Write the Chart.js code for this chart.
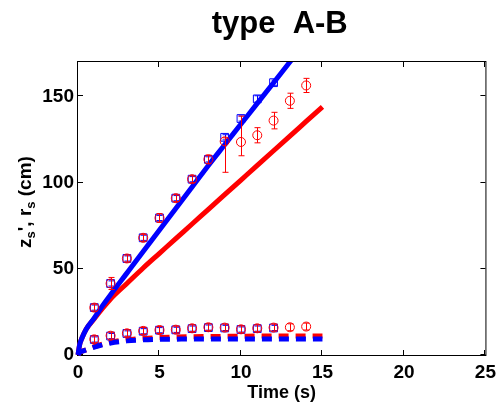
<!DOCTYPE html>
<html><head><meta charset="utf-8">
<script src="https://cdn.jsdelivr.net/npm/chart.js@4/dist/chart.umd.min.js"></script>
<style>html,body{margin:0;padding:0;background:#fff}canvas{display:block}</style>
</head><body>
<canvas id="c" width="502" height="414"></canvas>
<script>
// ---- text ----
const titleText = 'type  A-B';
const xAxisTitle = 'Time (s)';
const xTickValues = [0, 5, 10, 15, 20, 25];
const yTickValues = [0, 50, 100, 150];

// ---- model curves ----
const tFit     = [0, 0.1, 0.25, 0.5, 1, 1.5, 2, 3, 4, 5, 6, 7, 8, 9, 10, 11, 12, 13, 14, 15];
const zBlueFit = [0, 6, 10, 15, 21.5, 28.5, 35, 47.5, 60, 72.5, 85, 97.5, 110, 122, 134, 146, 158, 170, 182, 194];
const zRedFit  = [0, 6, 10, 15, 21, 27, 32.5, 41.5, 50.5, 59, 67.5, 76, 84.5, 93, 101.5, 110, 118.5, 127, 135.5, 144];
const rBlueFit = [0, 1.5, 2.2, 3, 4.6, 5.9, 7, 8.2, 8.8, 9.1, 9.2, 9.3, 9.3, 9.3, 9.3, 9.3, 9.3, 9.3, 9.3, 9.3];
const rRedFit  = [0, 1.5, 2.2, 3, 4.8, 6.3, 7.5, 8.8, 9.6, 10.1, 10.4, 10.6, 10.7, 10.8, 10.9, 11, 11, 11, 11, 11];

// ---- measurements ----
const tRed  = [1, 2, 3, 4, 5, 6, 7, 8, 9, 10, 11, 12, 13, 14];
const tBlue = [1, 2, 3, 4, 5, 6, 7, 8, 9, 10, 11, 12];
const zRed        = [27.5, 41.5, 56, 68, 79.5, 91, 102, 113.5, 124, 123.6, 127.5, 136, 147.5, 156.4];
const zRedErrLo   = [2, 3.5, 2, 2, 2.5, 2, 2, 2.5, 18, 8, 4.4, 4.8, 4.4, 4.1];
const zRedErrHi   = [2, 3.5, 2, 2, 2.5, 2, 2, 2.5, 2, 15, 4.4, 4.8, 4.4, 4.1];
const zBlue       = [27.5, 41.5, 56, 68, 79.5, 91, 102, 113.5, 126.3, 137.2, 148.6, 158];
const zBlueErr    = [1.5, 1.5, 1.5, 1.5, 1.5, 1.5, 1.5, 1.5, 1.5, 1.5, 1.8, 1.5];
const rRed        = [9.1, 11.2, 12.6, 14, 14.5, 14.7, 15.5, 16.1, 15.9, 14.9, 15.5, 15.9, 16.1, 16.5];
const rRedErr     = [2, 2, 2, 2, 2, 2, 2, 2, 2, 2, 2, 2, 2, 2];
const rBlue       = [9, 11, 12.5, 13.8, 14.4, 14.6, 15.3, 15.9, 15.7, 14.8, 15.3, 15.7];
const rBlueErr    = [1.5, 1.5, 1.5, 1.5, 1.5, 1.5, 1.5, 1.5, 1.5, 1.5, 1.5, 1.5];

const RED = '#ff0000', BLUE = '#0000ff';
const FONT = '"Liberation Sans", Arial, Helvetica, sans-serif';
const pts = (xs, ys) => xs.map((x, i) => ({x: x, y: ys[i]}));

function markerSet(xs, ys, lo, hi, color, style, radius) {
  return {
    data: pts(xs, ys), errLo: lo, errHi: hi, showLine: false,
    pointStyle: style, pointRadius: radius, pointHoverRadius: radius,
    pointBorderColor: color, pointBackgroundColor: 'rgba(0,0,0,0)',
    pointBorderWidth: 1, borderColor: color, errColor: color
  };
}
function lineSet(ys, color, dashed) {
  return {
    data: pts(tFit, ys), showLine: true, pointRadius: 0, pointHoverRadius: 0,
    borderColor: color, borderWidth: 5, borderDash: dashed ? [10, 7] : [],
    cubicInterpolationMode: 'monotone', fill: false,
    clip: {left: 6, top: 0, right: 0, bottom: 6}
  };
}

const datasets = [
  markerSet(tRed, zRed, zRedErrLo, zRedErrHi, RED, 'circle', 4.5),
  markerSet(tRed, rRed, rRedErr, rRedErr, RED, 'circle', 4.5),
  markerSet(tBlue, zBlue, zBlueErr, zBlueErr, BLUE, 'rect', 5.5),
  markerSet(tBlue, rBlue, rBlueErr, rBlueErr, BLUE, 'rect', 5.5),
  lineSet(zBlueFit, BLUE, false),
  lineSet(rBlueFit, BLUE, true),
  lineSet(zRedFit, RED, false),
  lineSet(rRedFit, RED, true)
];

const decor = {
  id: 'decor',
  beforeDatasetsDraw(chart) {
    const {ctx, chartArea: a, scales: {x, y}} = chart;
    ctx.save();
    ctx.strokeStyle = '#000';
    ctx.lineWidth = 1;
    ctx.strokeRect(a.left - 0.5, a.top - 0.5, a.right - a.left + 1, a.bottom - a.top + 1);
    ctx.beginPath();
    xTickValues.forEach(v => {
      const px = Math.round(x.getPixelForValue(v)) - 0.5;
      ctx.moveTo(px, a.bottom); ctx.lineTo(px, a.bottom - 5);
      ctx.moveTo(px, a.top); ctx.lineTo(px, a.top + 5);
    });
    yTickValues.forEach(v => {
      const py = Math.round(y.getPixelForValue(v)) - 0.5;
      ctx.moveTo(a.left, py); ctx.lineTo(a.left + 5, py);
      ctx.moveTo(a.right, py); ctx.lineTo(a.right - 5, py);
    });
    ctx.stroke();
    ctx.restore();
  },
  afterDatasetDraw(chart, args) {
    const ds = chart.data.datasets[args.index];
    if (!ds.errLo) return;
    const {ctx, scales: {x, y}} = chart;
    ctx.save();
    ctx.strokeStyle = ds.errColor;
    ctx.lineWidth = 1;
    ctx.beginPath();
    ds.data.forEach((p, i) => {
      const px = Math.round(x.getPixelForValue(p.x)) + 0.5;
      const y1 = y.getPixelForValue(p.y - ds.errLo[i]);
      const y2 = y.getPixelForValue(p.y + ds.errHi[i]);
      ctx.moveTo(px, y1); ctx.lineTo(px, y2);
      ctx.moveTo(px - 3, y1); ctx.lineTo(px + 3, y1);
      ctx.moveTo(px - 3, y2); ctx.lineTo(px + 3, y2);
    });
    ctx.stroke();
    ctx.restore();
  },
  afterDraw(chart) {
    const {ctx, chartArea: a} = chart;
    ctx.save();
    ctx.fillStyle = '#000';
    // title
    ctx.font = 'bold 31px ' + FONT;
    ctx.textAlign = 'center';
    ctx.textBaseline = 'alphabetic';
    ctx.fillText(titleText, (a.left + a.right) / 2 - 2, 33);
    // y axis title with subscripts
    const big = 'bold 19px ' + FONT, small = 'bold 13px ' + FONT;
    const parts = [
      {t: 'z', f: big, dy: 0}, {t: 's', f: small, dy: 4},
      {t: "', r", f: big, dy: 0}, {t: 's', f: small, dy: 4},
      {t: ' (cm)', f: big, dy: 0}
    ];
    let total = 0;
    parts.forEach(p => { ctx.font = p.f; p.w = ctx.measureText(p.t).width; total += p.w; });
    ctx.translate(31, 202);
    ctx.rotate(-Math.PI / 2);
    ctx.textAlign = 'left';
    let cx = -total / 2;
    parts.forEach(p => { ctx.font = p.f; ctx.fillText(p.t, cx, p.dy); cx += p.w; });
    ctx.restore();
  }
};

new Chart(document.getElementById('c'), {
  type: 'scatter',
  data: {datasets: datasets},
  options: {
    responsive: false,
    devicePixelRatio: 1,
    animation: false,
    events: [],
    layout: {padding: {top: 62, right: 14, left: 0, bottom: 0}},
    plugins: {legend: {display: false}, tooltip: {enabled: false}, title: {display: false}},
    scales: {
      x: {
        type: 'linear', min: 0, max: 25,
        afterBuildTicks: s => { s.ticks = xTickValues.map(v => ({value: v})); },
        afterFit: s => { s.height = 59; },
        grid: {display: false, drawTicks: false},
        border: {display: false},
        ticks: {color: '#000', padding: 6, maxRotation: 0, autoSkip: false,
                font: {family: FONT, size: 19, weight: 'bold'}, callback: v => String(v)},
        title: {display: true, text: xAxisTitle, color: '#000',
                font: {family: FONT, size: 18, weight: 'bold'}, padding: {top: 0, bottom: 10}}
      },
      y: {
        type: 'linear', min: 0, max: 170,
        afterBuildTicks: s => { s.ticks = yTickValues.map(v => ({value: v})); },
        afterFit: s => { s.width = 78; },
        grid: {display: false, drawTicks: false},
        border: {display: false},
        ticks: {color: '#000', padding: 4, autoSkip: false,
                font: {family: FONT, size: 19, weight: 'bold'}, callback: v => String(v)}
      }
    }
  },
  plugins: [decor]
});
</script>
</body></html>
